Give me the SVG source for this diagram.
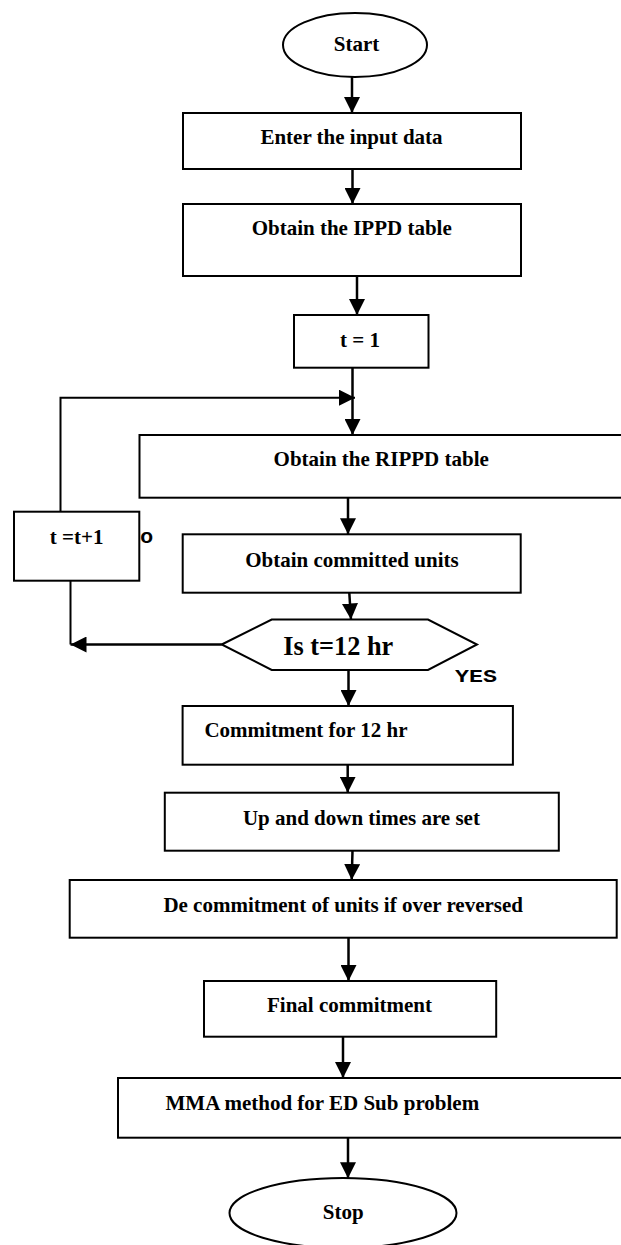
<svg xmlns="http://www.w3.org/2000/svg" width="621" height="1245" viewBox="0 0 621 1245">
<defs>
<style>
.n{fill:#fff;stroke:#000;stroke-width:2}
.t{font-family:"Liberation Serif","Times New Roman",serif;font-weight:bold;font-size:21px;fill:#000;text-anchor:middle}
.c{fill:none;stroke:#000;stroke-width:2.5}
.l{fill:none;stroke:#000;stroke-width:2}
</style>
<marker id="ah" viewBox="0 0 16 16" markerWidth="16" markerHeight="16" refX="16" refY="8" orient="auto" markerUnits="userSpaceOnUse">
<path d="M0,0 L16,8 L0,16 z" fill="#000"/>
</marker>
</defs>
<rect width="621" height="1245" fill="#fff"/>
<g id="connectors">
<line class="c" x1="352" y1="77" x2="352" y2="113" marker-end="url(#ah)"/>
<line class="c" x1="352.5" y1="169" x2="352.5" y2="204" marker-end="url(#ah)"/>
<line class="c" x1="357" y1="276" x2="357" y2="315" marker-end="url(#ah)"/>
<line class="c" x1="352.5" y1="368" x2="352.5" y2="435" marker-end="url(#ah)"/>
<polyline class="l" points="60.5,511.7 60.5,397.7 355,397.7" marker-end="url(#ah)"/>
<line class="c" x1="348" y1="498" x2="348" y2="534.3" marker-end="url(#ah)"/>
<line class="c" x1="349.3" y1="592.7" x2="351" y2="619.5" marker-end="url(#ah)"/>
<line class="l" x1="70.5" y1="580.7" x2="70.5" y2="644.5"/>
<line class="c" x1="221.7" y1="644.5" x2="70.5" y2="644.5" marker-end="url(#ah)"/>
<line class="c" x1="348.5" y1="670" x2="348.5" y2="706" marker-end="url(#ah)"/>
<line class="c" x1="347.7" y1="764.7" x2="347.7" y2="792.7" marker-end="url(#ah)"/>
<line class="c" x1="352.5" y1="850.7" x2="351.7" y2="880" marker-end="url(#ah)"/>
<line class="c" x1="348.5" y1="937.7" x2="348.5" y2="981" marker-end="url(#ah)"/>
<line class="c" x1="343" y1="1036.7" x2="343" y2="1078" marker-end="url(#ah)"/>
<line class="c" x1="348" y1="1137.7" x2="348" y2="1178.3" marker-end="url(#ah)"/>
</g>
<g id="start">
<ellipse class="n" cx="355" cy="45" rx="72" ry="32"/>
<text class="t" x="356.5" y="51">Start</text>
</g>
<g id="enter">
<rect class="n" x="183" y="113" width="338" height="56"/>
<text class="t" x="351.5" y="144">Enter the input data</text>
</g>
<g id="ippd">
<rect class="n" x="183" y="204" width="338" height="72"/>
<text class="t" x="351.7" y="235">Obtain the IPPD table</text>
</g>
<g id="t1">
<rect class="n" x="294" y="315" width="134.5" height="52.7"/>
<text class="t" x="360" y="347">t = 1</text>
</g>
<g id="rippd">
<rect class="n" x="139.5" y="435" width="490" height="62.7"/>
<text class="t" x="381.2" y="466">Obtain the RIPPD table</text>
</g>
<g id="tinc">
<rect class="n" x="14" y="511.7" width="125.3" height="69"/>
<text class="t" x="76.7" y="543.5">t =t+1</text>
<text x="146.7" y="542.5" style="font-family:'Liberation Sans',Arial,sans-serif;font-weight:bold;font-size:21px;text-anchor:middle">o</text>
</g>
<g id="committed">
<rect class="n" x="182.7" y="534.3" width="338" height="58.4"/>
<text class="t" x="351.9" y="566.7">Obtain committed units</text>
</g>
<g id="decision">
<polygon class="n" points="221.7,644.5 271.7,619.5 428,619.5 477,644.5 428,670 271.7,670"/>
<text class="t" x="338.3" y="655" style="font-size:28px" textLength="110" lengthAdjust="spacingAndGlyphs">Is t=12 hr</text>
<text x="476" y="682" style="font-family:'Liberation Mono','Courier New',monospace;font-weight:bold;font-size:19px;text-anchor:middle" textLength="42" lengthAdjust="spacingAndGlyphs">YES</text>
</g>
<g id="commit12">
<rect class="n" x="182.6" y="706" width="330.3" height="58.7"/>
<text class="t" x="204.4" y="736.7" style="text-anchor:start">Commitment for 12 hr</text>
</g>
<g id="updown">
<rect class="n" x="164.8" y="792.7" width="394" height="58"/>
<text class="t" x="361.4" y="825">Up and down times are set</text>
</g>
<g id="decommit">
<rect class="n" x="69.7" y="880" width="547" height="57.7"/>
<text class="t" x="343.2" y="912.3">De commitment of units if over reversed</text>
</g>
<g id="final">
<rect class="n" x="204" y="981" width="292.2" height="55.7"/>
<text class="t" x="349.5" y="1011.7">Final commitment</text>
</g>
<g id="mma">
<rect class="n" x="118" y="1078" width="510" height="59.7"/>
<text class="t" x="165.5" y="1110" style="text-anchor:start">MMA method for ED Sub problem</text>
</g>
<g id="stop">
<ellipse class="n" cx="343" cy="1213" rx="113.5" ry="35"/>
<text class="t" x="343.3" y="1218.5">Stop</text>
</g>
</svg>
